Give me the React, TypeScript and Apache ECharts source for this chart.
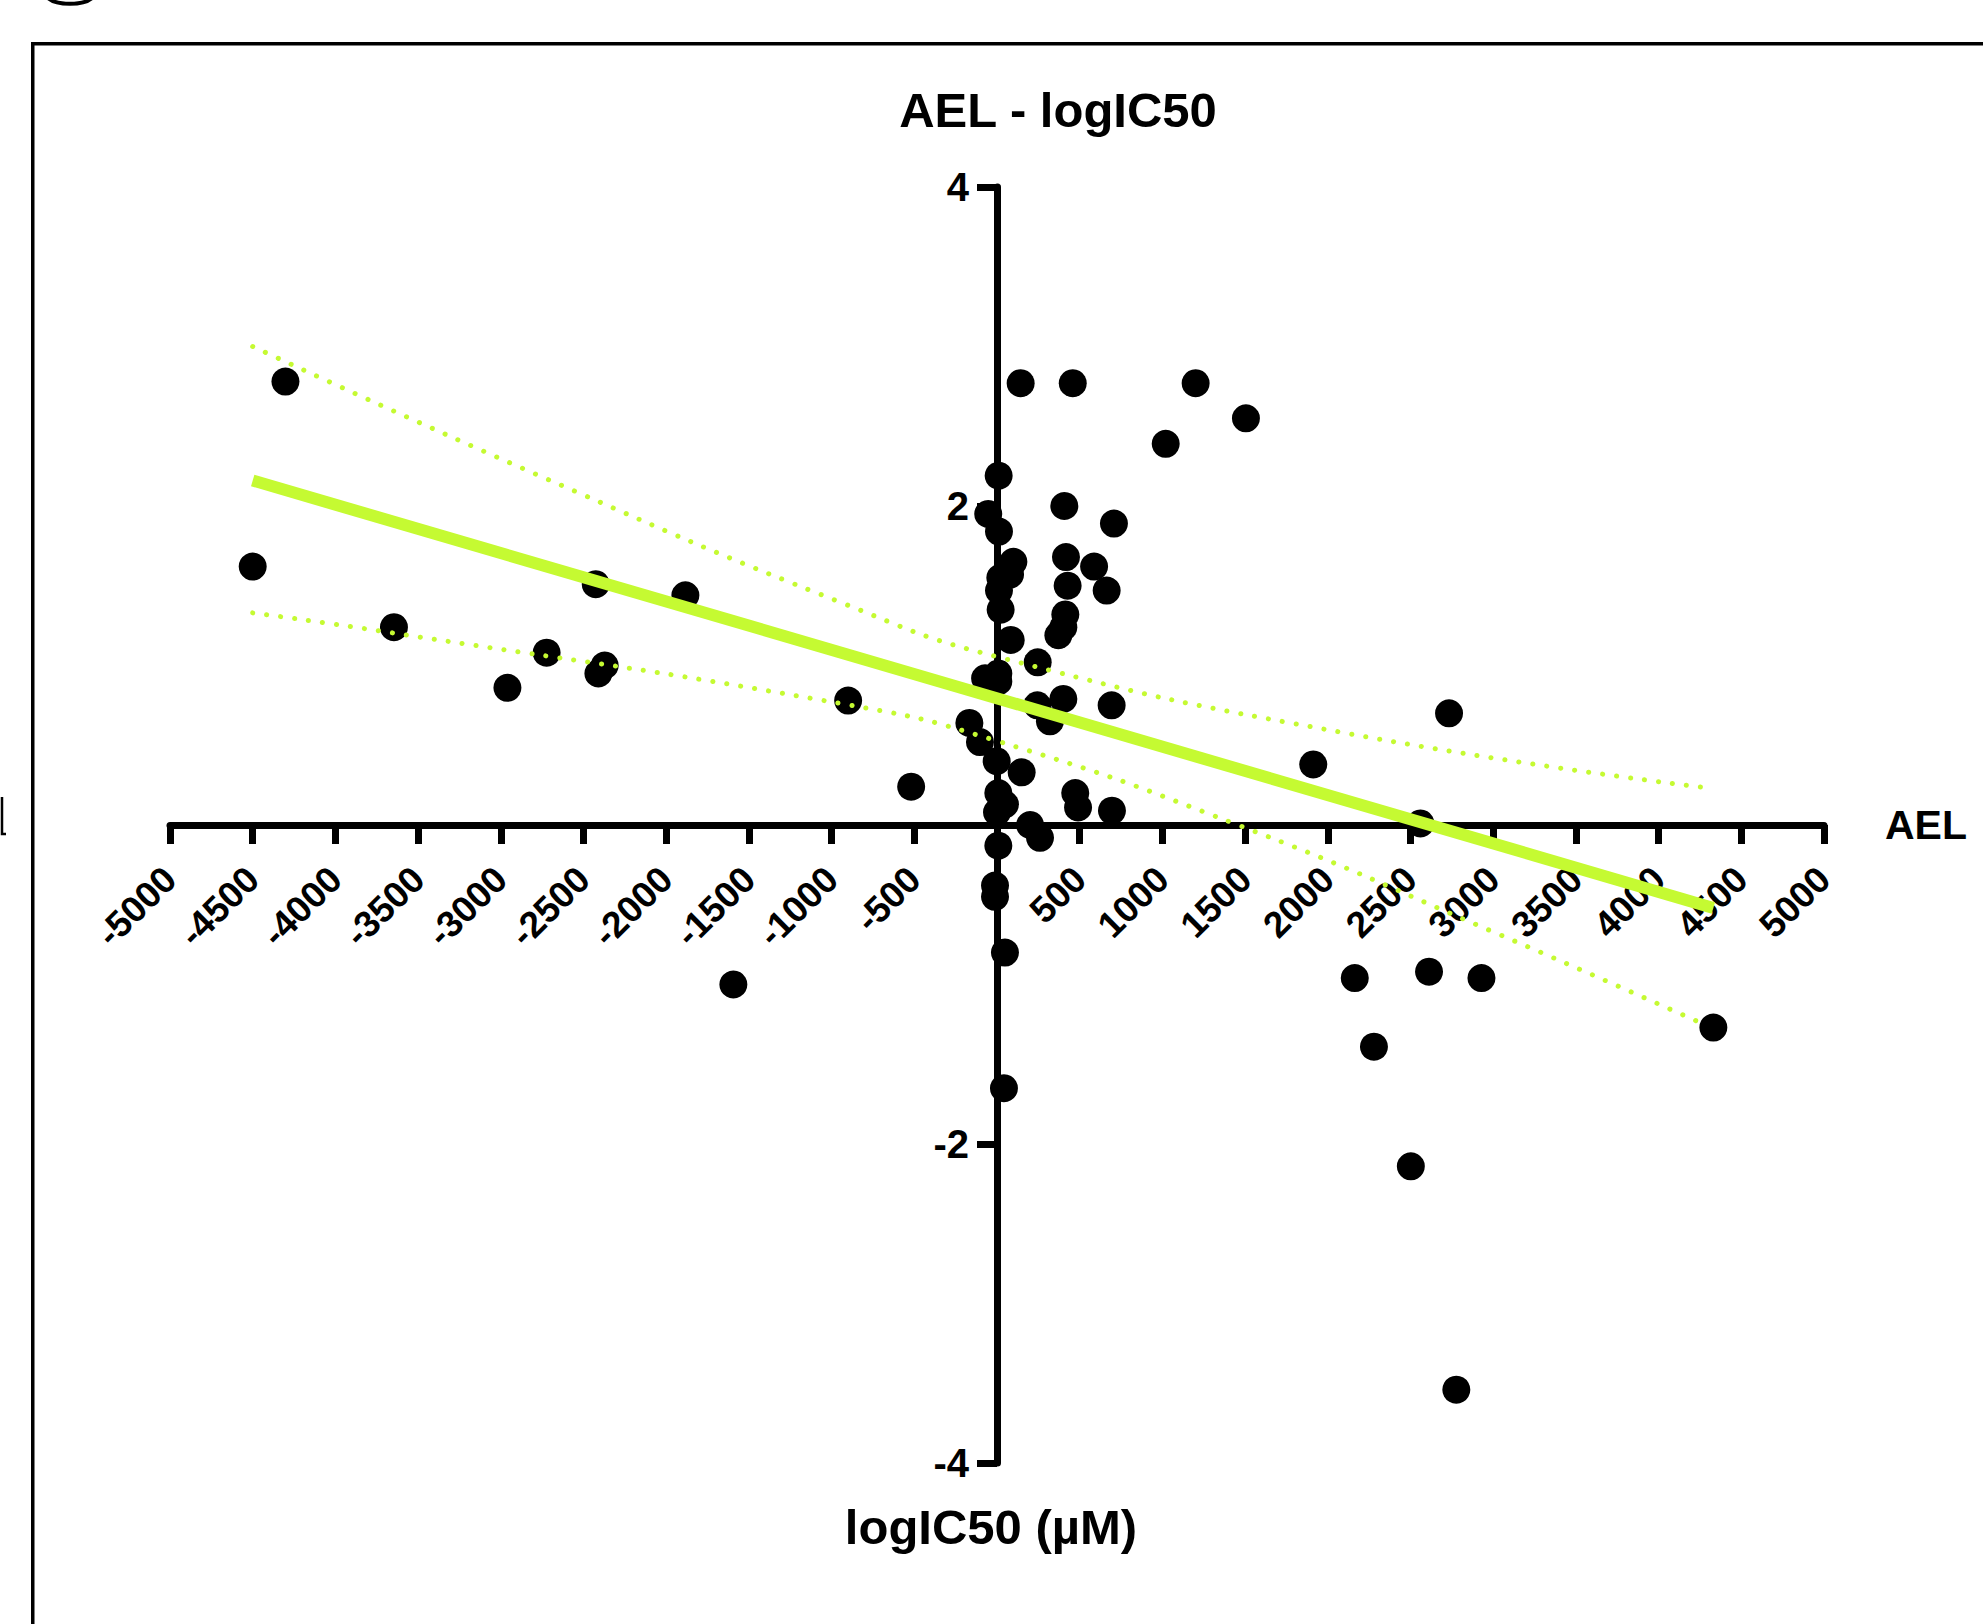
import React, { useEffect, useRef } from "react";
import * as echarts from "echarts";

const pointsAEL: number[] = [
  -4302, -4500, -3646, -2960, -2723, -2426, -2410, -2372, -1884, -900, -519, -1594,
  143, 458, 1201, 1505, 1020, 10, 407, 707, -53, 12, 99, 79, 20, 12, 22, 83,
  417, 587, 427, 663, 413, 401, 371, 246, 8, -72, 8, 401, 244, 320, 693, -167,
  -103, -2, 149, 473, 490, 695, 8, 48, 0, 200, 260, 8, -12, -12, 48, 42,
  1912, 2733, 2560, 2163, 2612, 2929, 4331, 2279, 2502, 2777,
];
const pointsLogIC50: number[] = [
  2.78, 1.62, 1.24, 0.86, 1.08, 1.51, 0.95, 1.0, 1.44, 0.78, 0.24, -1.0,
  2.77, 2.77, 2.77, 2.55, 2.39, 2.19, 2.0, 1.89, 1.95, 1.84, 1.65, 1.57, 1.55, 1.47, 1.35, 1.16,
  1.68, 1.62, 1.5, 1.47, 1.32, 1.24, 1.19, 1.02, 0.95, 0.92, 0.9, 0.79, 0.75, 0.65, 0.75, 0.64,
  0.52, 0.4, 0.33, 0.2, 0.11, 0.09, 0.2, 0.13, 0.08, 0.0, -0.08, -0.13, -0.38, -0.45, -0.8, -1.65,
  0.38, 0.7, 0.01, -0.96, -0.92, -0.96, -1.27, -1.39, -2.14, -3.54,
];

// Fitted line and 95% confidence band
const fitX: number[] = [-4500, 4331];
const fitY: number[] = [2.16, -0.52];
const upperX: number[] = [-4500, -2723, -931, 0, 2114, 4317];
const upperY: number[] = [3.0, 2.17, 1.39, 1.055, 0.575, 0.23];
const lowerX: number[] = [-4500, -3690, -937, -32, 1457, 3000, 4275];
const lowerY: number[] = [1.33, 1.21, 0.76, 0.537, 0.0, -0.67, -1.25];

const title = "AEL - logIC50";
const xName = "AEL";
const yName = "logIC50 (µM)";

const FONT = "'Liberation Sans', Arial, Helvetica, sans-serif";
const GREEN = "#C5FA32";

// plot box (pixels) and where the zero lines fall inside it
const GRID_LEFT = 170;
const GRID_RIGHT = 159;
const GRID_TOP = 187;
const GRID_BOTTOM = 161;
const X_AXIS_SHIFT = 1624 - GRID_BOTTOM - 825; // bottom edge -> y = 0 line
const Y_AXIS_SHIFT = 997 - GRID_LEFT; // left edge -> x = 0 line

const zip = (a: number[], b: number[]) => a.map((v, i) => [v, b[i]]);

export default function App() {
  const ref = useRef<HTMLDivElement>(null);
  useEffect(() => {
    if (!ref.current) return;
    const chart = echarts.init(ref.current, null, { renderer: "svg" });
    const band = {
      type: "line",
      smooth: true,
      showSymbol: false,
      silent: true,
      z: 4,
      lineStyle: { color: GREEN, width: 5, type: [0.1, 14], cap: "round" },
    };
    chart.setOption({
      animation: false,
      backgroundColor: "#ffffff",
      grid: {
        left: GRID_LEFT,
        right: GRID_RIGHT,
        top: GRID_TOP,
        bottom: GRID_BOTTOM,
        containLabel: false,
        outerBoundsMode: "none",
      },
      xAxis: {
        type: "value",
        min: -5000,
        max: 5000,
        interval: 500,
        position: "bottom",
        offset: -X_AXIS_SHIFT,
        splitLine: { show: false },
        axisLine: { show: true, onZero: false, lineStyle: { color: "#000", width: 7 } },
        axisTick: { show: true, inside: false, length: 19, lineStyle: { color: "#000", width: 7 } },
        axisLabel: {
          rotate: 45,
          margin: 48,
          color: "#000",
          fontFamily: FONT,
          fontWeight: "bold",
          fontSize: 37,
          formatter: (v: number) => (v === 0 ? "" : String(v)),
        },
      },
      yAxis: {
        type: "value",
        min: -4,
        max: 4,
        interval: 2,
        position: "left",
        offset: -Y_AXIS_SHIFT,
        splitLine: { show: false },
        axisLine: { show: true, onZero: false, lineStyle: { color: "#000", width: 7 } },
        axisTick: { show: true, inside: false, length: 20, lineStyle: { color: "#000", width: 7 } },
        axisLabel: {
          margin: 28,
          color: "#000",
          fontFamily: FONT,
          fontWeight: "bold",
          fontSize: 40,
          formatter: (v: number) => (v === 0 ? "" : String(v)),
        },
      },
      series: [
        {
          type: "scatter",
          data: zip(pointsAEL, pointsLogIC50),
          symbol: "circle",
          symbolSize: 28,
          itemStyle: { color: "#000", opacity: 1 },
          z: 2,
        },
        {
          type: "line",
          data: zip(fitX, fitY),
          showSymbol: false,
          silent: true,
          z: 5,
          lineStyle: { color: GREEN, width: 12, cap: "butt" },
        },
        { ...band, data: zip(upperX, upperY) },
        { ...band, data: zip(lowerX, lowerY) },
      ],
      graphic: [
        { type: "rect", shape: { x: 31, y: 42, width: 1960, height: 3.5 }, style: { fill: "#000" } },
        { type: "rect", shape: { x: 31, y: 42, width: 3.5, height: 1600 }, style: { fill: "#000" } },
        {
          type: "bezierCurve",
          shape: { x1: 47, y1: -3, cpx1: 55, cpy1: 6, cpx2: 85, cpy2: 6, x2: 93, y2: -3 },
          style: { stroke: "#000", lineWidth: 4, fill: null },
        },
        {
          type: "polyline",
          shape: { points: [[2, 797], [2, 834], [6, 834]] },
          style: { stroke: "#000", lineWidth: 2.5, fill: null },
        },
        {
          type: "text",
          x: 1058,
          y: 110,
          style: {
            text: title,
            fontFamily: FONT,
            fontWeight: "bold",
            fontSize: 49,
            fill: "#000",
            textAlign: "center",
            textVerticalAlign: "middle",
          },
        },
        {
          type: "text",
          x: 1885,
          y: 825,
          style: {
            text: xName,
            fontFamily: FONT,
            fontWeight: "bold",
            fontSize: 41,
            fill: "#000",
            textAlign: "left",
            textVerticalAlign: "middle",
          },
        },
        {
          type: "text",
          x: 991,
          y: 1527,
          style: {
            text: yName,
            fontFamily: FONT,
            fontWeight: "bold",
            fontSize: 49,
            fill: "#000",
            textAlign: "center",
            textVerticalAlign: "middle",
          },
        },
      ],
    });
    return () => chart.dispose();
  }, []);
  return (
    <div
      ref={ref}
      style={{ position: "absolute", left: 0, top: 0, width: 1983, height: 1624, background: "#fff" }}
    />
  );
}
